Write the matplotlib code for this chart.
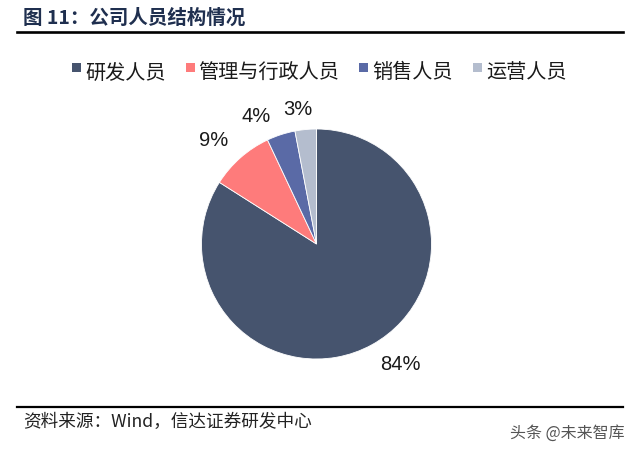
import matplotlib
matplotlib.use("Agg")
import numpy as np
import matplotlib.pyplot as plt
from matplotlib.patches import Rectangle
from matplotlib.lines import Line2D

plt.rcParams['font.family'] = ['Noto Sans CJK SC', 'DejaVu Sans']

categories = ['研发人员', '管理与行政人员', '销售人员', '运营人员']
shares = [84, 9, 4, 3]
colors = ['#46546E', '#FE7B7B', '#5A6AA6', '#B4BDCE']
title = '图 11：公司人员结构情况'
source = '资料来源：Wind，信达证券研发中心'
watermark = '头条 @未来智库'

# label placement style (distance from centre in radii, angular shift in degrees)
label_dist = [1.28, 1.27, 1.23, 1.18]
label_shift = [6.0, 3.2, 7.4, 2.3]

W, H = 640, 454
fig = plt.figure(figsize=(6.4, 4.54), dpi=100)
fig.patch.set_facecolor('white')

def fx(px):
    return px / W

def fy(py_top):
    return 1 - py_top / H

# pie axes
cx, cy, r = 316.5, 244, 115
ax = fig.add_axes([fx(cx - r), (H - cy - r) / H, 2 * r / W, 2 * r / H])
wedges, _ = ax.pie(
    shares, colors=colors, startangle=90, counterclock=False, radius=1,
    wedgeprops=dict(edgecolor='white', linewidth=0.6))
for wdg, val, d, s in zip(wedges, shares, label_dist, label_shift):
    mid = np.deg2rad((wdg.theta1 + wdg.theta2) / 2 + s)
    ax.text(d * np.cos(mid), d * np.sin(mid), f'{val}%', ha='center', va='center',
            fontsize=14.5, color='#1a1a1a', family=['Liberation Sans', 'DejaVu Sans'])
ax.set_xlim(-1, 1)
ax.set_ylim(-1, 1)
ax.set_aspect('auto')
ax.axis('off')

# title
fig.text(fx(23), fy(18), title, fontsize=14, fontweight='bold', color='#1F2F4F',
         ha='left', va='center')
fig.add_artist(Line2D([fx(17), fx(623)], [fy(32), fy(32)], color='black', lw=1.9))
fig.add_artist(Line2D([fx(17), fx(623)], [fy(406.5), fy(406.5)], color='black', lw=1.6))

# source and watermark
fig.text(fx(23), fy(422), source, fontsize=12.7, color='#222222', ha='left', va='center',
         style='italic')
fig.text(fx(625), fy(433), watermark, fontsize=11.5, color='#555555', ha='right', va='center')

# manual legend
fig.canvas.draw()
renderer = fig.canvas.get_renderer()
x = 72
for name, col in zip(categories, colors):
    fig.add_artist(Rectangle((fx(x), fy(72)), fx(9), 9 / H, facecolor=col, edgecolor='none',
                             transform=fig.transFigure))
    t = fig.text(fx(x + 13), fy(73), name, fontsize=14.5, color='#1a1a1a',
                 ha='left', va='center')
    w = t.get_window_extent(renderer).width
    x = x + 13 + w + 20

fig.savefig('out.png', dpi=100, facecolor='white')
